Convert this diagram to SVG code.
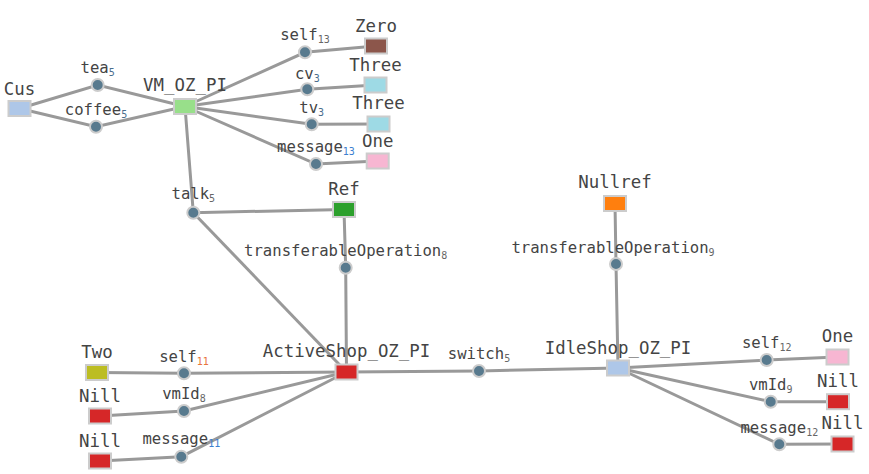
<svg xmlns="http://www.w3.org/2000/svg" width="869" height="474" viewBox="0 0 869 474">
<style>
.l{stroke:#999;stroke-width:3;fill:none}
.d{fill:#587a8e;stroke:#ccc;stroke-width:2}
.n{stroke:#ccc;stroke-width:2}
.t{font-family:"DejaVu Sans Mono","Liberation Mono",monospace;fill:#444;text-anchor:middle}
.nt{font-size:17.4px}
.et{font-size:15.6px}
.s{font-size:10px}
.sg{fill:#666}
.so{fill:#e8743b}
.sb{fill:#3c7fd0}
.ss{fill:#4a6d8c}
</style>
<rect width="869" height="474" fill="#fff"/>
<g id="connectors">
<g id="e-tea5"><polyline class="l" points="19.5,108.5 97.7,85 185,106.5"/></g>
<g id="e-coffee5"><polyline class="l" points="19.5,108.5 96,126.7 185,106.5"/></g>
<g id="e-self13"><polyline class="l" points="185,106.5 305,52.3 376,46"/></g>
<g id="e-cv3"><polyline class="l" points="185,106.5 307.3,89.3 375.5,85"/></g>
<g id="e-tv3"><polyline class="l" points="185,106.5 311.7,124.3 378.5,124"/></g>
<g id="e-message13"><polyline class="l" points="185,106.5 316,164 377.7,161"/></g>
<g id="e-talk5"><polyline class="l" points="185,106.5 193.3,212.7 344,209.5"/><line class="l" x1="193.3" y1="212.7" x2="346.5" y2="372"/></g>
<g id="e-to8"><polyline class="l" points="344,209.5 345.7,267.7 346.5,372"/></g>
<g id="e-self11"><polyline class="l" points="97,372.5 184,373.3 346.5,372"/></g>
<g id="e-vmId8"><polyline class="l" points="100,416 184,411 346.5,372"/></g>
<g id="e-message11"><polyline class="l" points="100,461 181.3,456.7 346.5,372"/></g>
<g id="e-switch5"><polyline class="l" points="346.5,372 479,371 618,368"/></g>
<g id="e-to9"><polyline class="l" points="615,203.5 616,264 618,368"/></g>
<g id="e-self12"><polyline class="l" points="618,368 766.7,360 837.5,357"/></g>
<g id="e-vmId9"><polyline class="l" points="618,368 770.7,401.7 838,401.7"/></g>
<g id="e-message12"><polyline class="l" points="618,368 779.3,444.3 842.5,444"/></g>
<g id="edge-dots">
<circle class="d" cx="97.7" cy="85" r="6"/>
<circle class="d" cx="96" cy="126.7" r="6"/>
<circle class="d" cx="305" cy="52.3" r="6"/>
<circle class="d" cx="307.3" cy="89.3" r="6"/>
<circle class="d" cx="311.7" cy="124.3" r="6"/>
<circle class="d" cx="316" cy="164" r="6"/>
<circle class="d" cx="193.3" cy="212.7" r="6"/>
<circle class="d" cx="345.7" cy="267.7" r="6"/>
<circle class="d" cx="184" cy="373.3" r="6"/>
<circle class="d" cx="184" cy="411" r="6"/>
<circle class="d" cx="181.3" cy="456.7" r="6"/>
<circle class="d" cx="479" cy="371" r="6"/>
<circle class="d" cx="616" cy="264" r="6"/>
<circle class="d" cx="766.7" cy="360" r="6"/>
<circle class="d" cx="770.7" cy="401.7" r="6"/>
<circle class="d" cx="779.3" cy="444.3" r="6"/>
</g>
<g id="edge-labels" class="t et">
<text x="97.7" y="73">tea<tspan class="s ss" dy="3">5</tspan></text>
<text x="96" y="115">coffee<tspan class="s ss" dy="3">5</tspan></text>
<text x="305" y="40">self<tspan class="s sg" dy="3">13</tspan></text>
<text x="307.3" y="79">cv<tspan class="s ss" dy="3">3</tspan></text>
<text x="311.7" y="113">tv<tspan class="s ss" dy="3">3</tspan></text>
<text x="316" y="152">message<tspan class="s sb" dy="3">13</tspan></text>
<text x="193.3" y="199">talk<tspan class="s sg" dy="3">5</tspan></text>
<text x="345.7" y="256">transferableOperation<tspan class="s sg" dy="3">8</tspan></text>
<text x="184" y="362">self<tspan class="s so" dy="3">11</tspan></text>
<text x="184" y="399">vmId<tspan class="s sg" dy="3">8</tspan></text>
<text x="181.3" y="444">message<tspan class="s sb" dy="3">11</tspan></text>
<text x="479" y="359">switch<tspan class="s sg" dy="3">5</tspan></text>
<text x="613" y="253">transferableOperation<tspan class="s sg" dy="3">9</tspan></text>
<text x="766.7" y="348">self<tspan class="s sg" dy="3">12</tspan></text>
<text x="770.7" y="390">vmId<tspan class="s sg" dy="3">9</tspan></text>
<text x="779.3" y="433">message<tspan class="s sg" dy="3">12</tspan></text>
</g>
</g>
<g id="Cus"><rect class="n" x="8.5" y="101" width="22" height="15" fill="#aec7e8"/><text class="t nt" x="19.5" y="95">Cus</text></g>
<g id="VM_OZ_PI"><rect class="n" x="174" y="99" width="22" height="15" fill="#98df8a"/><text class="t nt" x="185" y="91">VM_OZ_PI</text></g>
<g id="Zero"><rect class="n" x="365" y="38.5" width="22" height="15" fill="#8c564b"/><text class="t nt" x="376" y="32">Zero</text></g>
<g id="Three1"><rect class="n" x="364.5" y="77.5" width="22" height="15" fill="#9edae5"/><text class="t nt" x="375.5" y="71">Three</text></g>
<g id="Three2"><rect class="n" x="367.5" y="116.5" width="22" height="15" fill="#9edae5"/><text class="t nt" x="378.5" y="109">Three</text></g>
<g id="One1"><rect class="n" x="366.7" y="153.5" width="22" height="15" fill="#f7b6d2"/><text class="t nt" x="377.7" y="147">One</text></g>
<g id="Ref"><rect class="n" x="333" y="202" width="22" height="15" fill="#2ca02c"/><text class="t nt" x="344" y="195">Ref</text></g>
<g id="Nullref"><rect class="n" x="604" y="196" width="22" height="15" fill="#ff7f0e"/><text class="t nt" x="615" y="188">Nullref</text></g>
<g id="ActiveShop_OZ_PI"><rect class="n" x="335.5" y="364.5" width="22" height="15" fill="#d62728"/><text class="t nt" x="346.5" y="357">ActiveShop_OZ_PI</text></g>
<g id="Two"><rect class="n" x="86" y="365" width="22" height="15" fill="#bcbd22"/><text class="t nt" x="97" y="358">Two</text></g>
<g id="Nill1"><rect class="n" x="89" y="408.5" width="22" height="15" fill="#d62728"/><text class="t nt" x="100" y="402">Nill</text></g>
<g id="Nill2"><rect class="n" x="89" y="453.5" width="22" height="15" fill="#d62728"/><text class="t nt" x="100" y="447">Nill</text></g>
<g id="IdleShop_OZ_PI"><rect class="n" x="607" y="360.5" width="22" height="15" fill="#aec7e8"/><text class="t nt" x="618" y="354">IdleShop_OZ_PI</text></g>
<g id="One2"><rect class="n" x="826.5" y="349.5" width="22" height="15" fill="#f7b6d2"/><text class="t nt" x="837.5" y="342">One</text></g>
<g id="Nill3"><rect class="n" x="827" y="394.2" width="22" height="15" fill="#d62728"/><text class="t nt" x="838" y="387">Nill</text></g>
<g id="Nill4"><rect class="n" x="831.5" y="436.5" width="22" height="15" fill="#d62728"/><text class="t nt" x="842.5" y="429">Nill</text></g>
</svg>
